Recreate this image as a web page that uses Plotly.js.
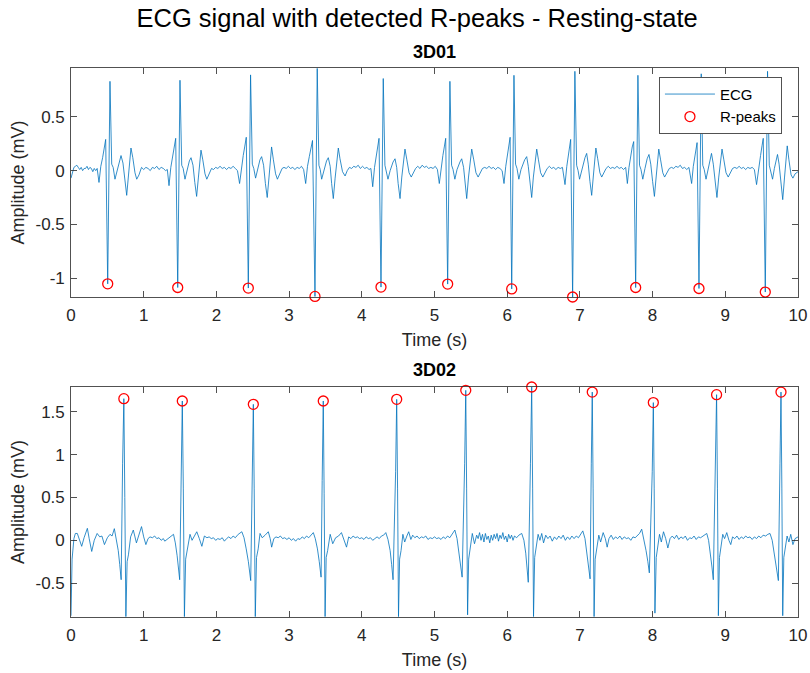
<!DOCTYPE html>
<html>
<head>
<meta charset="utf-8">
<script src="https://cdn.plot.ly/plotly-3.0.1.min.js"></script>
<style>html,body{margin:0;padding:0;background:#fff;}#chart{width:810px;height:673px;}</style>
</head>
<body>
<div id="chart"></div>
<script>
// ---------- 3D01 ECG trace (time in s, amplitude in mV) ----------
const ecg1Time = [
  0,0.02,0.04,0.06,0.08,0.10,0.12,0.14,0.16,0.18,0.20,0.22,0.24,0.26,0.28,0.30,0.32,0.34,0.36,
  0.385,0.41,0.435,0.455,0.477,0.505,0.536,0.56,0.58,0.605,0.635,0.665,0.688,0.715,0.74,0.766,0.79,0.81,0.825,0.85,0.88,0.904,0.935,0.97,
  1.0,1.03,1.06,1.09,1.12,1.15,1.18,1.21,1.24,1.27,1.30,1.325,
  1.348,1.373,1.398,1.418,1.44,1.468,1.499,1.523,1.543,1.568,1.598,1.628,1.651,1.678,1.703,1.728,1.753,1.773,1.788,1.813,1.843,1.868,1.898,1.933,
  1.96,1.99,2.02,2.05,2.08,2.11,2.14,2.17,2.20,2.23,2.26,2.29,
  2.319,2.344,2.369,2.389,2.411,2.439,2.47,2.494,2.514,2.539,2.569,2.599,2.622,2.649,2.674,2.699,2.724,2.744,2.759,2.784,2.814,2.839,2.869,2.904,
  2.93,2.96,2.99,3.02,3.05,3.08,3.11,3.14,3.17,3.20,
  3.228,3.253,3.278,3.30,3.322,3.356,3.387,3.41,3.428,3.448,3.48,3.515,3.539,3.565,3.585,3.608,3.633,3.66,3.677,3.70,3.735,3.77,3.80,3.83,
  3.86,3.89,3.92,3.95,3.98,4.01,4.04,4.07,4.10,4.125,
  4.15,4.175,4.20,4.22,4.237,4.264,4.295,4.318,4.335,4.36,4.39,4.43,4.457,4.48,4.50,4.526,4.55,4.575,4.594,4.62,4.65,4.68,4.71,4.74,
  4.77,4.80,4.83,4.86,4.89,4.92,4.95,4.98,5.01,5.04,
  5.066,5.09,5.115,5.135,5.154,5.181,5.212,5.235,5.255,5.28,5.31,5.35,5.374,5.40,5.42,5.443,5.468,5.493,5.512,5.54,5.57,5.60,5.63,5.66,
  5.69,5.72,5.75,5.78,5.81,5.84,5.87,5.90,5.93,
  5.956,5.98,6.0,6.02,6.04,6.062,6.093,6.115,6.135,6.16,6.19,6.24,6.268,6.29,6.315,6.337,6.36,6.385,6.406,6.43,6.46,6.49,6.52,6.55,
  6.58,6.61,6.64,6.67,6.70,6.73,6.76,
  6.795,6.82,6.84,6.857,6.873,6.90,6.931,6.955,6.975,6.995,7.03,7.07,7.093,7.115,7.138,7.162,7.185,7.205,7.22,7.245,7.275,7.30,7.33,7.36,
  7.39,7.42,7.45,7.48,7.51,7.54,7.57,7.60,7.63,
  7.653,7.675,7.70,7.72,7.74,7.767,7.798,7.82,7.84,7.865,7.895,7.925,7.95,7.975,8.0,8.025,8.05,8.07,8.085,8.11,8.14,8.165,8.195,8.23,
  8.26,8.29,8.32,8.35,8.38,8.41,8.44,8.47,8.50,
  8.537,8.56,8.585,8.60,8.612,8.638,8.669,8.69,8.71,8.735,8.765,8.79,8.81,8.835,8.86,8.885,8.91,8.935,8.955,8.98,9.01,9.04,9.07,9.10,
  9.13,9.16,9.19,9.22,9.25,9.28,9.31,9.34,9.37,9.40,
  9.43,9.46,9.485,9.505,9.522,9.55,9.581,9.605,9.625,9.65,9.675,9.70,9.718,9.74,9.765,9.79,9.815,9.835,9.852,9.875,9.905,9.93,9.96,10.0
];
const ecg1Amp = [
  -0.07,-0.02,0.03,0.04,0.05,0.03,0.01,0.03,0.00,0.02,0.02,0.04,0.01,0.03,0.02,-0.01,0.02,0.00,0.02,
  -0.11,0.04,0.12,0.20,0.29,-1.053,0.83,0.06,0.03,-0.08,0.00,0.10,0.14,0.07,-0.10,-0.23,-0.05,0.14,0.21,0.12,-0.02,-0.08,-0.04,0.03,
  0.01,0.03,0.02,0.00,0.03,0.02,0.04,0.01,0.03,0.02,0.00,0.01,
  -0.14,0.03,0.12,0.21,0.30,-1.087,0.84,0.05,0.02,-0.08,0.01,0.09,0.12,0.05,-0.11,-0.24,-0.06,0.12,0.19,0.10,-0.03,-0.08,-0.03,0.02,
  0.01,0.03,0.02,0.04,0.02,0.03,0.01,0.03,0.02,0.04,0.02,0.00,
  -0.12,0.04,0.14,0.22,0.31,-1.092,0.89,0.06,0.02,-0.07,0.02,0.10,0.13,0.05,-0.12,-0.25,-0.06,0.13,0.22,0.10,-0.03,-0.08,-0.03,0.02,
  0.03,0.02,0.04,0.02,0.03,0.01,0.03,0.02,0.04,0.01,
  -0.12,0.04,0.13,0.21,0.28,-1.170,0.95,0.05,0.01,-0.08,0.01,0.09,0.12,0.04,-0.12,-0.26,-0.07,0.12,0.21,0.11,-0.01,-0.05,0.00,0.03,
  0.02,0.04,0.03,0.05,0.02,0.04,0.02,0.03,0.01,0.02,
  -0.15,0.03,0.13,0.22,0.30,-1.083,0.856,0.05,0.00,-0.08,0.00,0.08,0.11,0.03,-0.12,-0.26,-0.06,0.12,0.20,0.10,-0.02,-0.06,-0.02,0.02,
  0.04,0.02,0.05,0.03,0.04,0.02,0.03,0.02,0.04,0.01,
  -0.12,0.04,0.14,0.22,0.30,-1.055,0.83,0.05,0.01,-0.08,0.01,0.08,0.11,0.03,-0.12,-0.26,-0.06,0.12,0.20,0.10,-0.02,-0.06,-0.02,0.02,
  0.03,0.02,0.04,0.02,0.03,0.01,0.03,0.02,0.00,
  -0.12,0.04,0.13,0.22,0.31,-1.100,0.886,0.06,0.02,-0.08,0.01,0.10,0.13,0.04,-0.11,-0.25,-0.06,0.12,0.20,0.10,-0.02,-0.06,-0.02,0.02,
  0.04,0.02,0.03,0.01,0.03,0.02,0.03,
  -0.13,0.04,0.13,0.21,0.29,-1.175,0.923,0.05,0.00,-0.08,0.02,0.12,0.16,0.06,-0.10,-0.23,-0.05,0.13,0.21,0.11,-0.02,-0.06,-0.02,0.02,
  0.04,0.02,0.03,0.02,0.04,0.02,0.03,0.01,0.03,
  -0.12,0.03,0.15,0.22,0.27,-1.087,0.886,0.05,0.01,-0.08,0.02,0.11,0.15,0.06,-0.10,-0.24,-0.05,0.13,0.20,0.10,-0.02,-0.06,-0.02,0.02,
  0.03,0.02,0.04,0.03,0.05,0.02,0.03,0.01,0.03,
  -0.12,0.04,0.16,0.22,0.26,-1.096,0.90,0.05,0.01,-0.08,0.02,0.12,0.16,0.06,-0.10,-0.25,-0.06,0.12,0.20,0.10,-0.02,-0.06,-0.02,0.02,
  0.03,0.02,0.04,0.02,0.03,0.01,0.03,0.02,0.03,0.01,
  -0.13,0.04,0.14,0.23,0.30,-1.129,0.923,0.05,0.00,-0.08,0.02,0.11,0.15,0.06,-0.12,-0.27,-0.06,0.13,0.23,0.10,-0.04,-0.07,-0.03,-0.01
];
// detected R-peaks, 3D01
const rTime1 = [0.505,1.468,2.439,3.356,4.264,5.181,6.062,6.900,7.767,8.638,9.550];
const rAmp1  = [-1.053,-1.087,-1.092,-1.170,-1.083,-1.055,-1.100,-1.175,-1.087,-1.096,-1.129];

// ---------- 3D02 ECG trace ----------
const ecg2Time = [
  0,0.015,0.04,0.06,0.087,0.115,0.147,0.18,0.205,0.225,0.25,0.285,0.32,0.36,0.395,0.425,0.46,0.50,0.536,0.565,0.596,0.625,
  0.65,0.67,0.69,0.71,0.727,0.74,0.755,0.772,0.79,0.82,0.857,0.90,0.935,0.97,1.0,1.03,1.06,1.087,
  1.12,1.15,1.18,1.21,1.24,1.27,1.29,1.32,1.35,1.385,1.41,1.435,
  1.46,1.495,1.515,1.531,1.545,1.56,1.577,1.60,1.637,1.665,1.70,1.73,1.765,1.80,1.835,
  1.87,1.90,1.93,1.96,1.99,2.02,2.05,2.08,2.11,2.14,2.17,2.20,2.23,2.26,2.30,2.35,2.38,
  2.41,2.44,2.472,2.49,2.508,2.52,2.535,2.552,2.575,2.60,2.63,2.67,2.714,2.74,2.76,2.79,
  2.82,2.85,2.88,2.91,2.94,2.97,3.0,3.03,3.06,3.09,3.12,3.15,3.18,3.21,3.24,3.27,3.30,3.333,3.36,
  3.39,3.415,3.44,3.455,3.47,3.482,3.495,3.51,3.53,3.565,3.60,3.64,3.68,3.72,3.755,3.79,
  3.82,3.85,3.88,3.91,3.94,3.97,4.0,4.03,4.06,4.09,4.12,4.15,4.18,4.21,4.24,4.27,4.30,4.33,4.36,
  4.39,4.41,4.43,4.465,4.48,4.492,4.505,4.52,4.54,4.565,4.59,4.62,4.645,4.675,4.70,
  4.73,4.76,4.79,4.82,4.85,4.88,4.91,4.94,4.97,5.0,5.03,5.06,5.09,5.12,5.15,5.18,5.21,5.24,5.28,5.31,
  5.335,5.36,5.38,5.415,5.43,5.442,5.455,5.47,5.49,5.52,5.55,
  5.58,5.60,5.62,5.64,5.66,5.68,5.70,5.72,5.74,5.76,5.78,5.80,5.82,5.84,5.86,5.88,5.90,5.92,5.94,5.96,5.98,6.0,6.02,6.04,6.06,6.08,6.10,6.13,6.16,6.20,6.23,
  6.255,6.27,6.29,6.32,6.337,6.35,6.362,6.378,6.40,6.425,6.45,6.475,6.50,
  6.53,6.56,6.59,6.62,6.65,6.68,6.71,6.74,6.77,6.80,6.83,6.86,6.89,6.92,6.95,6.98,7.01,7.04,7.07,
  7.095,7.12,7.14,7.157,7.17,7.182,7.195,7.21,7.23,7.26,7.285,7.32,7.35,7.375,7.40,
  7.43,7.46,7.49,7.52,7.55,7.58,7.61,7.64,7.67,7.70,7.73,7.76,7.79,7.82,7.85,7.88,
  7.91,7.935,7.955,7.995,8.01,8.022,8.032,8.05,8.07,8.095,8.12,8.15,8.18,8.21,8.24,
  8.27,8.30,8.33,8.36,8.39,8.42,8.45,8.48,8.51,8.54,8.57,8.60,8.63,8.66,8.69,8.72,8.745,8.77,
  8.795,8.815,8.835,8.865,8.88,8.892,8.905,8.92,8.94,8.965,8.99,9.02,9.05,9.075,9.10,
  9.13,9.16,9.19,9.22,9.25,9.28,9.31,9.34,9.37,9.40,9.43,9.46,9.49,9.52,9.555,9.585,9.615,9.645,
  9.67,9.70,9.73,9.752,9.766,9.778,9.79,9.805,9.825,9.85,9.875,9.90,9.93,9.96,10.0
];
const ecg2Amp = [
  -0.88,-0.22,0.02,0.08,0.08,0.01,-0.07,0.03,0.10,0.14,0.02,-0.13,0.00,0.08,0.04,0.05,-0.05,0.03,0.07,0.05,0.136,0.02,
  -0.12,-0.28,-0.46,0.90,1.653,0.50,-0.89,-0.25,-0.17,0.04,0.12,-0.03,0.06,0.16,0.04,-0.05,0.02,0.04,
  0.03,0.05,0.02,0.03,0.00,0.02,-0.01,0.01,0.04,0.06,0.07,-0.03,
  -0.18,-0.46,0.85,1.626,0.60,-0.89,-0.22,-0.12,0.07,0.00,0.06,0.10,0.02,-0.07,0.05,
  0.03,0.04,0.02,0.03,0.00,0.02,0.01,0.03,-0.01,0.02,0.04,0.02,0.05,0.03,0.07,0.10,0.03,
  -0.10,-0.25,-0.47,0.80,1.587,0.60,-0.89,-0.20,-0.10,0.08,0.03,0.06,0.10,0.02,-0.08,0.02,
  0.04,0.03,0.05,0.02,0.03,0.01,0.03,0.00,0.02,-0.01,0.02,0.01,0.04,0.02,0.05,0.03,0.06,0.09,0.02,
  -0.10,-0.25,-0.43,0.70,1.626,0.55,-0.89,-0.20,-0.12,0.07,-0.04,0.03,0.05,0.09,0.00,-0.08,
  0.04,0.02,0.05,0.03,0.04,0.02,0.03,0.01,0.04,0.02,0.03,0.00,0.02,0.04,0.02,0.05,0.06,0.09,0.01,
  -0.12,-0.28,-0.46,0.80,1.645,0.60,-0.89,-0.22,-0.12,0.07,-0.02,0.05,0.10,0.01,0.06,
  0.03,0.05,0.02,0.04,0.03,0.05,0.01,0.03,0.02,0.04,0.02,0.03,0.01,0.04,0.02,0.05,0.03,0.07,0.12,0.02,
  -0.12,-0.28,-0.43,0.90,1.750,0.60,-0.87,-0.22,-0.10,0.08,-0.04,
  0.06,0.02,0.09,0.00,0.07,-0.02,0.08,0.01,0.05,-0.03,0.06,0.00,0.07,0.02,0.08,-0.01,0.06,0.02,0.09,0.01,0.05,-0.02,0.07,0.02,0.06,0.00,0.05,0.03,0.06,0.08,0.00,
  -0.15,-0.30,-0.49,0.90,1.789,0.60,-0.89,-0.20,-0.08,0.07,0.00,0.08,-0.03,
  0.06,0.02,0.05,-0.01,0.04,0.01,0.05,0.02,0.06,0.00,0.04,0.01,0.05,0.02,0.05,0.03,0.07,0.11,0.02,
  -0.14,-0.30,-0.45,0.90,1.730,0.60,-0.89,-0.22,-0.10,0.06,-0.02,0.09,0.02,-0.08,0.02,
  0.06,0.01,0.04,0.02,0.05,0.01,0.04,0.02,0.03,0.00,0.04,0.03,0.06,0.08,0.13,0.02,
  -0.12,-0.25,-0.38,0.80,1.607,0.60,-0.85,-0.20,-0.10,0.07,-0.02,0.10,0.02,-0.09,0.02,
  0.05,0.02,0.06,0.01,0.04,0.02,0.05,0.00,0.03,0.02,0.05,0.01,0.04,0.03,0.05,0.06,0.08,0.00,
  -0.15,-0.30,-0.46,0.85,1.700,0.60,-0.88,-0.20,-0.08,0.07,0.02,0.09,0.00,-0.05,0.04,
  0.02,0.05,0.01,0.04,0.02,0.05,0.03,0.04,0.01,0.04,0.02,0.05,0.03,0.06,0.05,0.07,0.08,0.00,
  -0.15,-0.30,-0.47,0.90,1.730,0.60,-0.88,-0.20,-0.10,0.05,-0.02,0.07,-0.05,0.02,0.04
];
// detected R-peaks, 3D02
const rTime2 = [0.727,1.531,2.508,3.470,4.480,5.430,6.337,7.170,8.010,8.880,9.766];
const rAmp2  = [1.653,1.626,1.587,1.626,1.645,1.750,1.789,1.730,1.607,1.700,1.730];

// ticks
const xTickVals = [0,1,2,3,4,5,6,7,8,9,10];
const xTickText = ['0','1','2','3','4','5','6','7','8','9','10'];
const y1TickVals = [-1,-0.5,0,0.5];
const y1TickText = ['-1','-0.5','0','0.5'];
const y2TickVals = [-0.5,0,0.5,1,1.5];
const y2TickText = ['-0.5','0','0.5','1','1.5'];

const FONT = 'Liberation Sans, Arial, Helvetica, sans-serif';
const AX = '#262626';
const LINE = '#0072BD';

const traces = [
  {x: ecg1Time, y: ecg1Amp, type: 'scatter', mode: 'lines', name: 'ECG',
   line: {color: LINE, width: 0.8}, xaxis: 'x', yaxis: 'y'},
  {x: rTime1, y: rAmp1, type: 'scatter', mode: 'markers', name: 'R-peaks', cliponaxis: false,
   marker: {symbol: 'circle-open', size: 10, color: '#FF0000', line: {width: 1.3, color: '#FF0000'}},
   xaxis: 'x', yaxis: 'y'},
  {x: ecg2Time, y: ecg2Amp, type: 'scatter', mode: 'lines', name: 'ECG', showlegend: false,
   line: {color: LINE, width: 0.8}, xaxis: 'x2', yaxis: 'y2'},
  {x: rTime2, y: rAmp2, type: 'scatter', mode: 'markers', name: 'R-peaks', showlegend: false, cliponaxis: false,
   marker: {symbol: 'circle-open', size: 10, color: '#FF0000', line: {width: 1.3, color: '#FF0000'}},
   xaxis: 'x2', yaxis: 'y2'}
];

function xAxis(anchor) {
  return {
    anchor: anchor, domain: [0, 1], range: [0, 10], tickvals: xTickVals, ticktext: xTickText,
    ticks: 'inside', ticklen: 6, tickwidth: 0.8, tickcolor: AX, showline: true, linecolor: AX, linewidth: 0.8,
    mirror: 'ticks', showgrid: false, zeroline: false, ticklabelstandoff: 3,
    tickfont: {family: FONT, size: 17, color: AX},
    title: {text: 'Time (s)', font: {family: FONT, size: 18, color: AX}, standoff: 9}
  };
}
function yAxis(anchor, domain, range, tv, tt) {
  return {
    anchor: anchor, domain: domain, range: range, tickvals: tv, ticktext: tt,
    ticks: 'inside', ticklen: 6, tickwidth: 0.8, tickcolor: AX, showline: true, linecolor: AX, linewidth: 0.8,
    mirror: 'ticks', showgrid: false, zeroline: false, ticklabelstandoff: 2,
    tickfont: {family: FONT, size: 17, color: AX},
    title: {text: 'Amplitude (mV)', font: {family: FONT, size: 18, color: AX}, standoff: 6}
  };
}

const layout = {
  width: 810, height: 673,
  margin: {l: 71, r: 12, t: 68, b: 56},
  paper_bgcolor: '#ffffff', plot_bgcolor: '#ffffff',
  font: {family: FONT, color: AX},
  title: {text: 'ECG signal with detected R-peaks - Resting-state', x: 0.515, xanchor: 'center',
          y: 0.973, yanchor: 'middle', yref: 'container', font: {family: FONT, size: 25.5, color: '#000'}},
  xaxis: xAxis('y'),
  yaxis: yAxis('x', [0.5829, 1], [-1.175, 0.954], y1TickVals, y1TickText),
  xaxis2: xAxis('y2'),
  yaxis2: yAxis('x2', [0, 0.4189], [-0.895, 1.789], y2TickVals, y2TickText),
  showlegend: true,
  legend: {x: 0.809, y: 0.9836, xanchor: 'left', yanchor: 'top', bgcolor: '#ffffff',
           bordercolor: AX, borderwidth: 0.8, font: {family: FONT, size: 15, color: '#000'},
           itemwidth: 50, tracegroupgap: 0},
  annotations: [
    {text: '<b>3D01</b>', xref: 'paper', yref: 'paper', x: 0.5, y: 1.029, xanchor: 'center', yanchor: 'middle',
     showarrow: false, font: {family: FONT, size: 18, color: '#000'}},
    {text: '<b>3D02</b>', xref: 'paper', yref: 'paper', x: 0.5, y: 0.45, xanchor: 'center', yanchor: 'middle',
     showarrow: false, font: {family: FONT, size: 18, color: '#000'}}
  ]
};

Plotly.newPlot('chart', traces, layout, {displayModeBar: false, staticPlot: true});
</script>
</body>
</html>
